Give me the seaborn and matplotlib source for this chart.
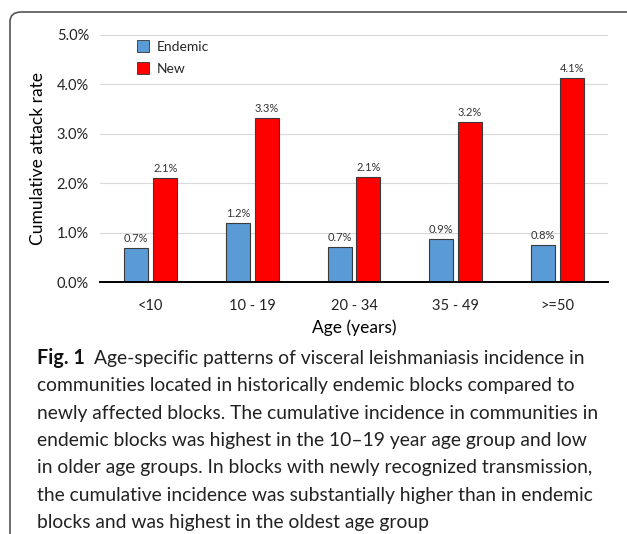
import matplotlib
matplotlib.use("Agg")
import matplotlib.pyplot as plt
import seaborn as sns
import pandas as pd
from matplotlib.patches import FancyBboxPatch
from matplotlib.lines import Line2D
from matplotlib.ticker import FuncFormatter

categories = ["<10", "10 - 19", "20 - 34", "35 - 49", ">=50"]
endemic = [0.69, 1.19, 0.70, 0.87, 0.75]
new = [2.10, 3.31, 2.13, 3.23, 4.12]
series_names = ["Endemic", "New"]
colors = ["#5B9BD5", "#FF0000"]
yticks = [0, 1, 2, 3, 4, 5]

df = pd.DataFrame({
    "Age": categories * 2,
    "rate": endemic + new,
    "series": [series_names[0]] * len(categories) + [series_names[1]] * len(categories),
})

sns.set_style("white")
plt.rcParams['font.family'] = ['Lato', 'DejaVu Sans']

W, H = 627, 534
fig = plt.figure(figsize=(W / 100, H / 100), dpi=100)

# axes position in pixels: x 100..608, y 35..282 (top origin)
ax = fig.add_axes([100 / W, 1 - 282 / H, 508 / W, (282 - 35) / H])

sns.barplot(data=df, x="Age", y="rate", hue="series", palette=colors,
            width=0.57, gap=0.17, ax=ax, legend=False,
            edgecolor="#3a3a3a", linewidth=0.8, saturation=1)

for cont in ax.containers:
    ax.bar_label(cont, labels=[f"{v.get_height():.1f}%" for v in cont],
                 padding=3, fontsize=8, color="#333333")

ax.set_ylim(0, 5)
ax.set_yticks(yticks)
ax.yaxis.set_major_formatter(FuncFormatter(lambda v, p: f"{v:.1f}%"))
ax.set_xlim(-0.5, len(categories) - 0.5)
ax.grid(axis="y", color="#d9d9d9", linewidth=0.8)
ax.set_axisbelow(True)
for s in ["top", "right", "left"]:
    ax.spines[s].set_visible(False)
ax.spines["bottom"].set_color("black")
ax.spines["bottom"].set_linewidth(1.4)
ax.tick_params(axis="both", length=0, labelsize=10.5, colors="#222222", pad=8)
ax.tick_params(axis="x", pad=12)
ax.set_xlabel("Age (years)", fontsize=12.5, labelpad=5, color="black")
ax.set_ylabel("Cumulative attack rate", fontsize=12.5, labelpad=8, color="black")

handles = [Line2D([], [], marker="s", linestyle="none", markersize=8,
                  markerfacecolor=c, markeredgecolor="#333333", markeredgewidth=0.6)
           for c in colors]
ax.legend(handles, series_names, loc="upper left", bbox_to_anchor=(0.035, 1.02),
          frameon=False, fontsize=10, handletextpad=0.0, labelspacing=0.7,
          borderpad=0.3)

# Border box (rounded, extends beyond right/bottom)
box = FancyBboxPatch((10 / W, -0.2), 1.2, 1 - 12 / H + 0.2,
                     boxstyle="round,pad=0,rounding_size=0.018",
                     transform=fig.transFigure, facecolor="none",
                     edgecolor="#555555", linewidth=1.2, clip_on=True)
fig.patches.append(box)

# Caption
cap_lines = [
    "communities located in historically endemic blocks compared to",
    "newly affected blocks. The cumulative incidence in communities in",
    "endemic blocks was highest in the 10\u201319 year age group and low",
    "in older age groups. In blocks with newly recognized transmission,",
    "the cumulative incidence was substantially higher than in endemic",
    "blocks and was highest in the oldest age group",
]
fs = 13.9
y0 = 364
step = 27.3
t1 = fig.text(37 / W, 1 - y0 / H, "Fig. 1", fontsize=fs + 0.3, fontweight="bold",
              va="baseline", ha="left", color="#111111")
fig.canvas.draw()
bb = t1.get_window_extent()
fig.text((bb.x1 + 9) / W, 1 - y0 / H,
         "Age-specific patterns of visceral leishmaniasis incidence in",
         fontsize=fs, fontweight="normal", va="baseline", ha="left", color="#222222")
for i, line in enumerate(cap_lines):
    fig.text(37 / W, 1 - (y0 + step * (i + 1)) / H, line, fontsize=fs,
             fontweight="normal", va="baseline", ha="left", color="#222222")

fig.savefig("out.png", dpi=100)
